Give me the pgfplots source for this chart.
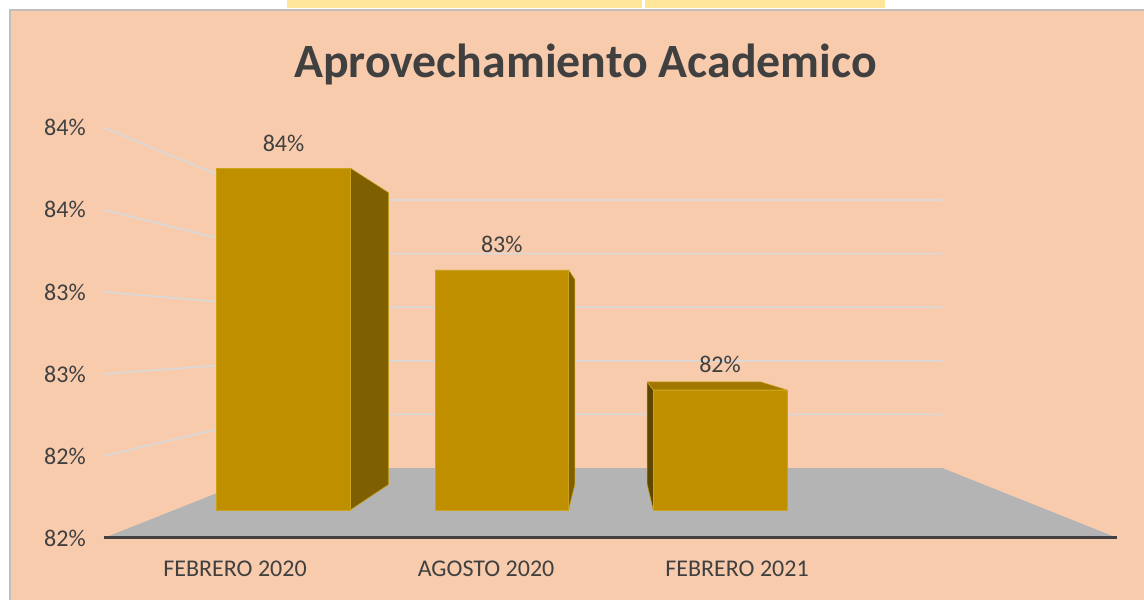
\documentclass[border=0pt]{standalone}
\usepackage{pgfplots}
\pgfplotsset{compat=1.18}
\usepackage{pgfplotstable}
\usepackage{fontspec}
\setmainfont{Carlito}

\definecolor{peach}{HTML}{F8CBAD}
\definecolor{txt}{HTML}{404040}
\definecolor{gold}{HTML}{BF8F00}
\definecolor{goldedge}{HTML}{CBA31A}
\definecolor{goldside}{HTML}{7F6000}
\definecolor{goldleft}{HTML}{5E4600}
\definecolor{goldtop}{HTML}{A07800}
\definecolor{floorgray}{HTML}{B4B4B4}
\definecolor{gridgray}{HTML}{D9D9D9}
\definecolor{cellyellow}{HTML}{FFE699}
\definecolor{bordergray}{HTML}{BFBFBF}

% data: value of each period (percent)
\pgfplotstableread{
x v
0 83.92
1 83.20
2 82.35
}\datatable

% geometry of the 3-D look (perspective toward a vanishing point)
\def\vpx{1.505}
\def\vpy{82.731}
\def\dep{0.147}
\def\hw{0.3058}
\def\base{81.5}

\pgfplotstableread{
xw g
-0.5 -0.1609
3.5 -0.1609
3.5 0.2414
-0.5 0.2414
}\floortab
\pgfplotstableread{
xw g
-0.5 -0.1609
-0.5 0.2414
3.5 0.2414
}\gridtab
\pgfplotstableread{
xw g
-0.5 -0.1609
3.5 -0.1609
}\fronttab
\pgfplotstableread{
s t k
1 0 0
1 1 0
1 1 1
1 0 1
}\rightside
\pgfplotstableread{
s t k
-1 0 0
-1 1 0
-1 1 1
-1 0 1
}\leftside
\pgfplotstableread{
s t k
-1 1 0
1 1 0
1 1 1
-1 1 1
}\topface

\newcommand{\barface}[3]{%
  \pgfplotstablegetelem{#1}{v}\of\datatable
  \edef\barv{\pgfplotsretval}%
  \addplot[fill=#3, draw=goldedge, line width=0.4pt, line join=round] table[
    x expr={#1+\thisrow{s}*\hw+\thisrow{k}*\dep*(\vpx-(#1+\thisrow{s}*\hw))},
    y expr={\base+\thisrow{t}*(\barv-\base)+\thisrow{k}*\dep*(\vpy-(\base+\thisrow{t}*(\barv-\base)))}
  ] {#2} -- cycle;
}

\begin{document}
\begin{tikzpicture}
\fill[white] (0,0) rectangle (858pt,449.25pt);
\useasboundingbox (0,0) rectangle (858pt,449.25pt);
\fill[cellyellow] (215.25pt,443.25pt) rectangle (481.5pt,450pt);
\fill[cellyellow] (483.75pt,443.25pt) rectangle (663.75pt,450pt);
\fill[peach] (7.5pt,-2pt) rectangle (862pt,441.75pt);
\draw[bordergray, line width=1.5pt] (7.5pt,-2pt) -- (7.5pt,441.75pt) -- (862pt,441.75pt);
\begin{axis}[
  at={(78.75pt,45.75pt)}, anchor=south west,
  scale only axis, width=759.75pt, height=328.5pt,
  xmin=-0.8179, xmax=3.8236,
  ymin=81.3018, ymax=84.4016,
  y coord trafo/.code={\pgfmathparse{#1-81.5}},
  y coord inv trafo/.code={\pgfmathparse{#1+81.5}},
  axis line style={draw=none},
  major tick length=0pt,
  ytick={81.302,81.8824,82.4629,83.0433,83.6238,84.2042},
  yticklabels={82\%,82\%,83\%,83\%,84\%,84\%},
  xtick={-0.222,0.928,2.078},
  xticklabels={FEBRERO 2020,AGOSTO 2020,FEBRERO 2021},
  ticklabel style={font=\fontsize{18}{21.6}\selectfont, text=txt, inner sep=0pt},
  yticklabel style={anchor=east, xshift=-14.25pt},
  xticklabel style={anchor=base, yshift=-28.5pt},
  title={Aprovechamiento Academico},
  title style={font=\bfseries\fontsize{35.85}{43}\selectfont, text=txt, anchor=base, inner sep=0pt, at={(axis description cs:0.4743,1.0342)}},
  clip=false,
  no markers,
]
% floor
\addplot[fill=floorgray, draw=none] table[
  x expr={\thisrow{xw}+\thisrow{g}*(\vpx-\thisrow{xw})},
  y expr={\base+\thisrow{g}*(\vpy-\base)}] {\floortab} -- cycle;
% gridlines on side and back walls
\pgfplotsinvokeforeach{82,82.5,83,83.5,84}{
  \addplot[gridgray, line width=1.2pt] table[
    x expr={\thisrow{xw}+\thisrow{g}*(\vpx-\thisrow{xw})},
    y expr={#1+\thisrow{g}*(\vpy-#1)}] {\gridtab};
}
% front edge of the floor
\addplot[txt, line width=2.25pt] table[
  x expr={\thisrow{xw}+\thisrow{g}*(\vpx-\thisrow{xw})},
  y expr={\base+\thisrow{g}*(\vpy-\base)}] {\fronttab};
% side and top faces
\barface{0}{\rightside}{goldside}
\barface{1}{\rightside}{goldside}
\barface{2}{\leftside}{goldleft}
\barface{2}{\topface}{goldtop}
% front faces
\addplot[ybar, bar width=0.6117, bar shift=0pt, fill=gold, draw=goldedge, line width=0.4pt,
  point meta=explicit,
  nodes near coords={\pgfmathprintnumber[fixed,precision=0,assume math mode=true]{\pgfplotspointmeta}\%},
  every node near coord/.append style={anchor=base, yshift=12.75pt, inner sep=0pt,
    font=\fontsize{18}{21.6}\selectfont, text=txt}]
  table[x=x, y=v, meta=v] {\datatable};
\end{axis}
\end{tikzpicture}
\end{document}
